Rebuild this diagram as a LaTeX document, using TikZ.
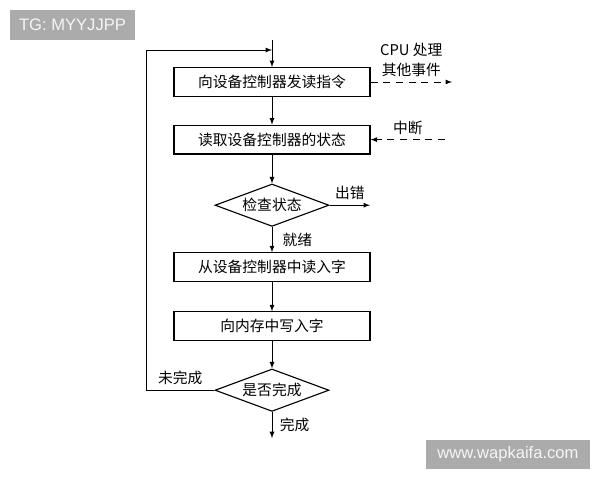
\documentclass[tikz,border=0pt]{standalone}
\usepackage{fontspec}
\setmainfont{Noto Sans CJK SC}
\newfontfamily\wmfont{Liberation Sans}
\usetikzlibrary{positioning, shapes.geometric, arrows}

\begin{document}
\begin{tikzpicture}
[->,>=latex,on grid,line width=0.6pt,
                    font=\fontsize{10.5}{14}\selectfont,
                    block/.style={rectangle,draw,line width=0.8pt,minimum width=4.9cm,minimum height=0.72cm},
                    decision/.style={diamond,draw,line width=0.8pt,shape aspect=2.7,
                                     minimum width=2.85cm,minimum height=1.06cm,inner sep=0pt},
                    dashline/.style={dash pattern=on 5pt off 4pt},
                    wmbox/.style={fill=black!33,text=black!4,inner sep=0pt,minimum height=0.74cm,
                                  font=\wmfont\fontsize{11.8}{14}\selectfont}]

\useasboundingbox (0,0) rectangle (15,-12);

\node[block] (send) at (6.8,-2.05) {向设备控制器发读指令};
\node[block, below=1.44cm of send] (status) {读取设备控制器的状态};
\node[decision, below=1.64cm of status] (check) {检查状态};
\node[block, below=1.55cm of check] (readw) {从设备控制器中读入字};
\node[block, below=1.475cm of readw] (writem) {向内存中写入字};
\node[decision, below=1.6cm of writem] (done) {是否完成};

\coordinate[above=1.05cm of send] (top);
\coordinate[above left=0.8cm and 3.15cm of send] (loop);
\coordinate[right=4.5cm of send] (cpu);
\coordinate[right=4.325cm of status] (irq);
\coordinate[right=2.45cm of check] (err);
\coordinate[below=1.2cm of done] (finish);

\path
	(top) edge (send)
	(send) edge (status)
		edge [dashline] node[above,align=center] {CPU 处理\\其他事件} (cpu)
	(irq) edge [dashline] node[above] {中断} (status)
	(status) edge (check)
	(check) edge node[above] {出错} (err)
		edge node[right=4pt] {就绪} (readw)
	(readw) edge (writem)
	(writem) edge (done)
	(done) edge node[right=2pt] {完成} (finish);

\draw (done.west) -- node[above] {未完成} (done.west -| loop) |- (send |- loop);

\node[wmbox, minimum width=3.125cm] (tg) at (1.8125,-0.625) {TG: MYYJJPP};
\node[wmbox, minimum width=4.1cm] (site) at (12.7,-11.3625) {www.wapkaifa.com};
\end{tikzpicture}
\end{document}
